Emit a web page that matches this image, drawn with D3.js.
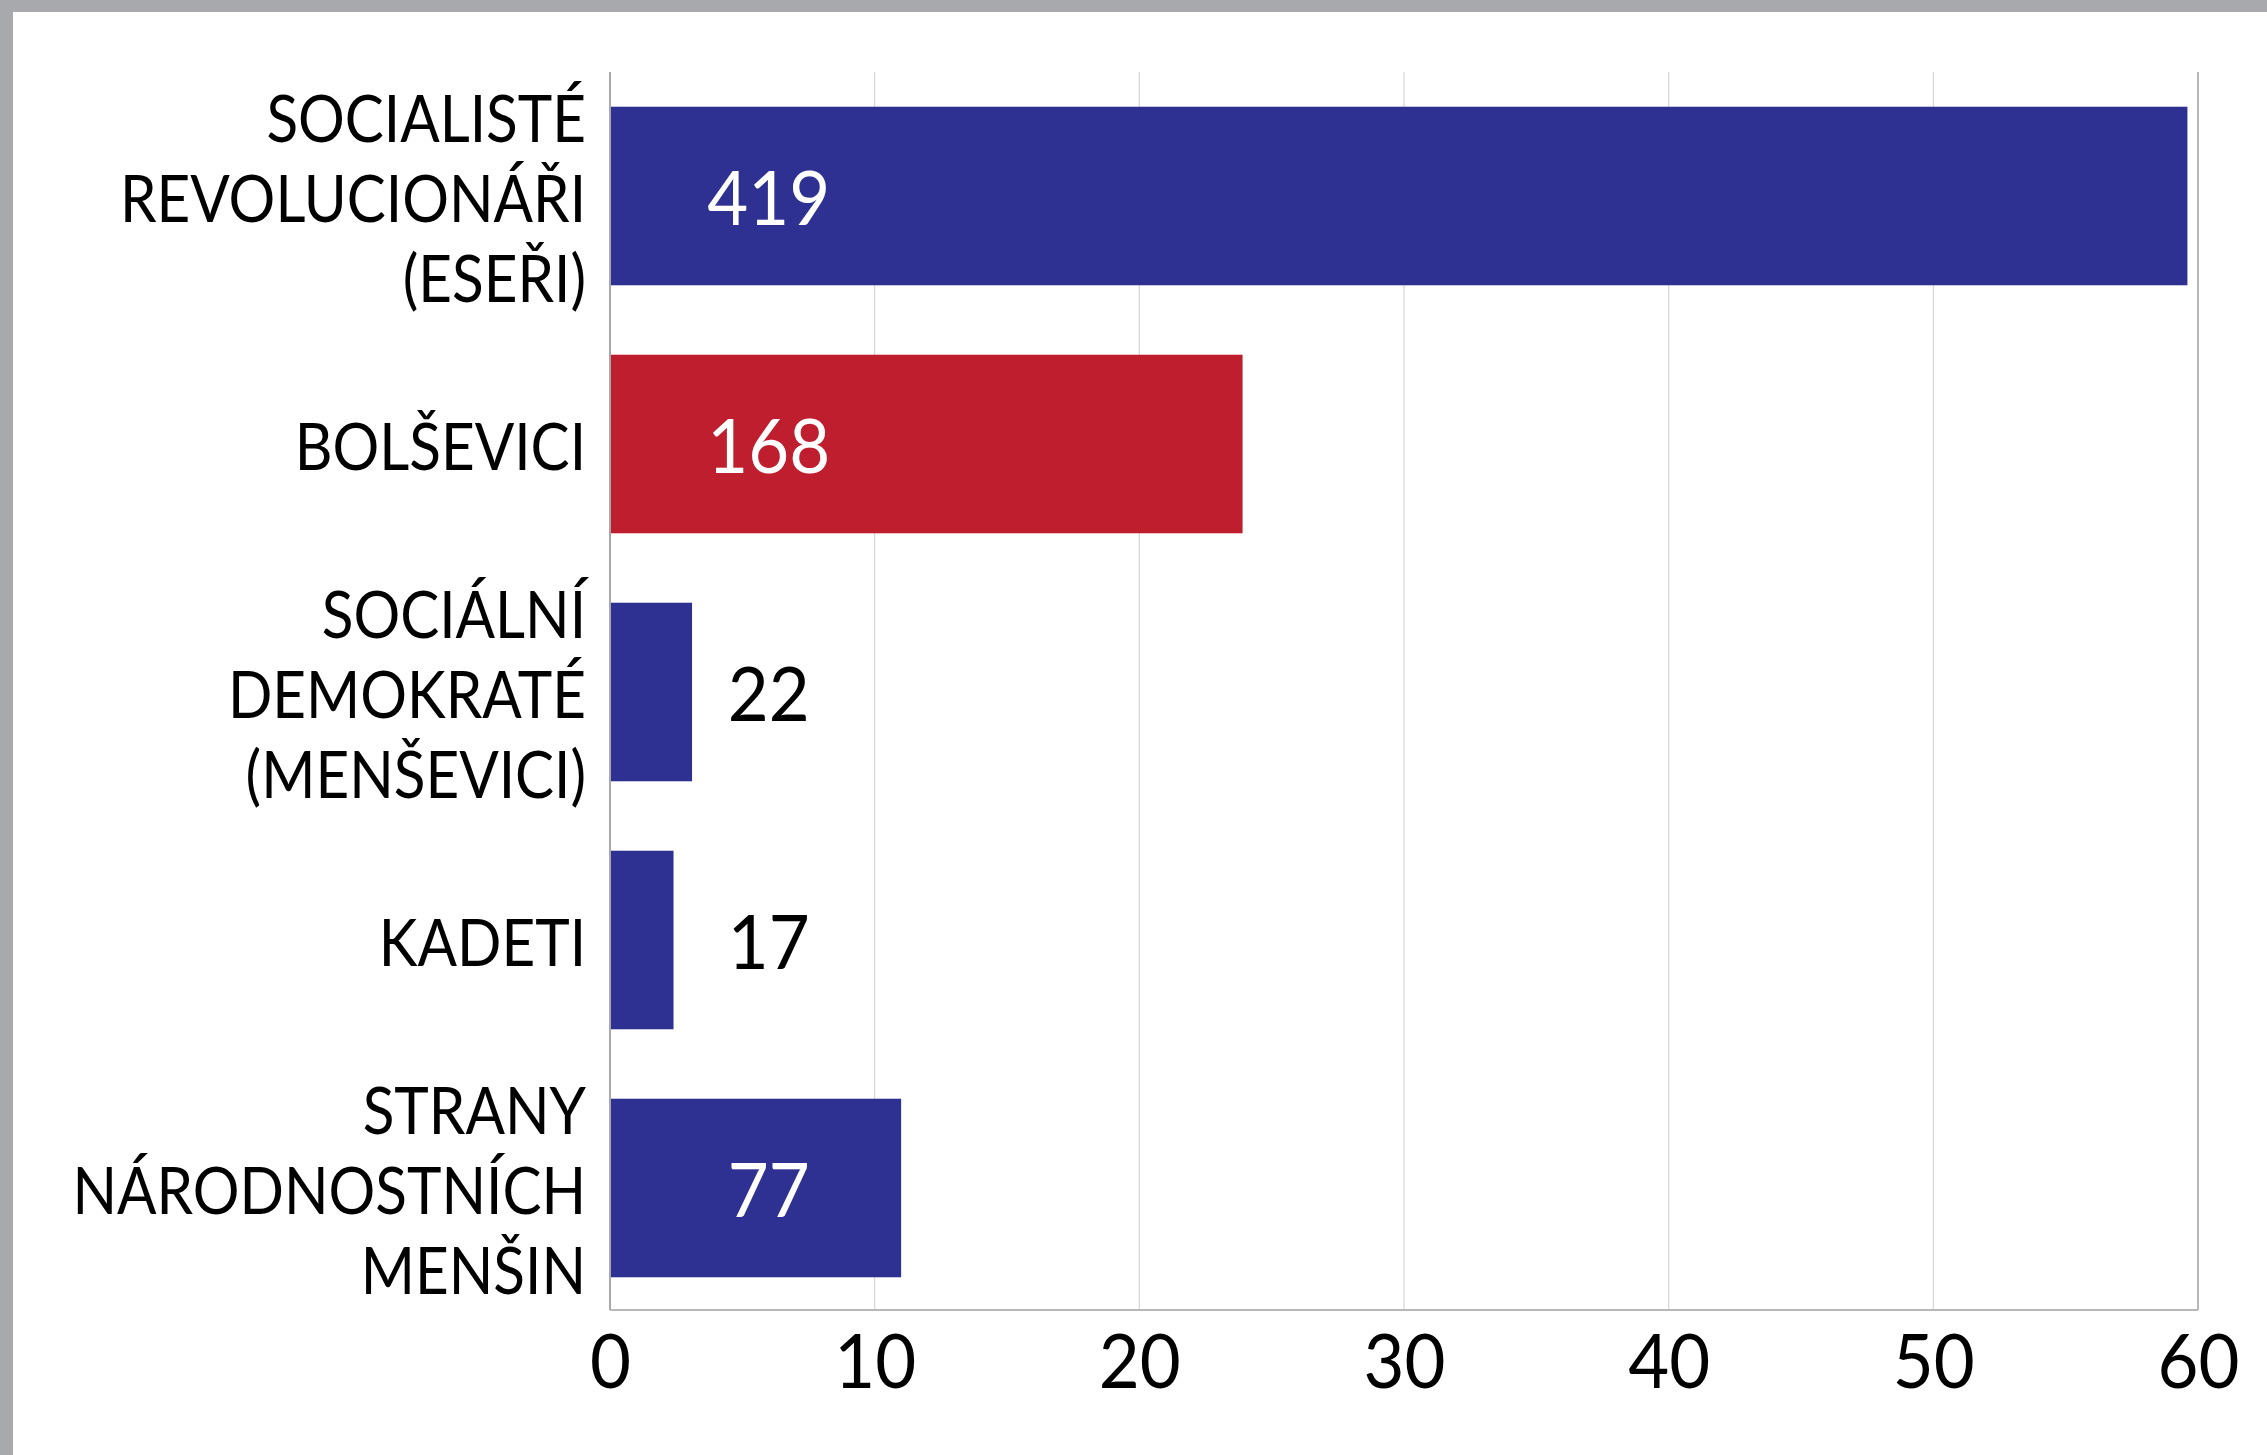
<!DOCTYPE html>
<html>
<head>
<meta charset="utf-8">
<script src="https://cdn.jsdelivr.net/npm/d3@7"></script>
<style>
  html, body { margin: 0; padding: 0; background: #fff; }
  svg { display: block; }
  text { font-family: Lato, "Open Sans", sans-serif; }
</style>
</head>
<body>
<svg id="chart"></svg>
<script>
// Seats in the Constituent Assembly, share of votes (%) on the x axis

const parties = [
  ['SOCIALISTÉ', 'REVOLUCIONÁŘI', '(ESEŘI)'],
  ['BOLŠEVICI'],
  ['SOCIÁLNÍ', 'DEMOKRATÉ', '(MENŠEVICI)'],
  ['KADETI'],
  ['STRANY', 'NÁRODNOSTNÍCH', 'MENŠIN']
];
const shares = [59.6, 23.9, 3.1, 2.4, 11.0];   // bar length, %
const seats  = [419, 168, 22, 17, 77];          // printed label
const colors = ['#2e3192', '#be1e2d', '#2e3192', '#2e3192', '#2e3192'];
const xTicks = [0, 10, 20, 30, 40, 50, 60];

const W = 2267, H = 1455;
const plotL = 610, plotR = 2198, plotT = 72, plotB = 1312, axisY = 1310;
const narrowLabel = 0.885;   // the original face is narrower than Lato
const narrowDigit = 0.93;

const svg = d3.select('#chart').attr('width', W).attr('height', H);

// ─── Frame ────────────────────────────────────────────────────────────────────
svg.append('rect').attr('x', 0).attr('y', 0).attr('width', W).attr('height', 12).attr('fill', '#a7a9ac');
svg.append('rect').attr('x', 0).attr('y', 0).attr('width', 13).attr('height', H).attr('fill', '#a7a9ac');

// ─── Scales ───────────────────────────────────────────────────────────────────
const x = d3.scaleLinear().domain([0, 60]).range([plotL, plotR]);
const y = d3.scaleBand()
  .domain(d3.range(parties.length))
  .range([plotT, plotB])
  .paddingInner(0.28)
  .paddingOuter(0.14);

// Gridlines
svg.append('g')
  .selectAll('line')
  .data(xTicks.slice(1))
  .join('line')
  .attr('x1', d => x(d)).attr('x2', d => x(d))
  .attr('y1', plotT).attr('y2', axisY)
  .attr('stroke', d => d === 60 ? '#b8b8b8' : '#d6d6d6')
  .attr('stroke-width', d => d === 60 ? 2 : 1.2);

// Bars
svg.append('g')
  .selectAll('rect')
  .data(shares)
  .join('rect')
  .attr('x', x(0))
  .attr('y', (d, i) => y(i))
  .attr('width', d => x(d) - x(0))
  .attr('height', y.bandwidth())
  .attr('fill', (d, i) => colors[i]);

// Axis lines
svg.append('line')
  .attr('x1', x(0)).attr('x2', x(0)).attr('y1', plotT).attr('y2', axisY)
  .attr('stroke', '#a8a8a8').attr('stroke-width', 2);
svg.append('line')
  .attr('x1', x(0)).attr('x2', x(60)).attr('y1', axisY).attr('y2', axisY)
  .attr('stroke', '#b8b8b8').attr('stroke-width', 2);

// Tick labels
const xAxis = svg.append('g')
  .attr('transform', `translate(0,${axisY})`)
  .call(d3.axisBottom(x).tickValues(xTicks).tickSize(0).tickPadding(0));
xAxis.select('.domain').remove();
xAxis.selectAll('text')
  .attr('y', 78)
  .attr('dy', 0)
  .attr('transform', `scale(${narrowDigit},1)`)
  .attr('font-size', 76)
  .attr('font-family', 'Lato, sans-serif')
  .attr('fill', '#000');

// Value labels — white inside long bars, black beside short ones
svg.append('g')
  .selectAll('text')
  .data(seats)
  .join('text')
  .attr('transform', (d, i) => `translate(${x(6)},${y(i) + y.bandwidth() / 2 + 29}) scale(${narrowDigit},1)`)
  .attr('text-anchor', 'middle')
  .attr('font-size', 76)
  .attr('fill', (d, i) => x(shares[i]) > x(9.5) ? '#fff' : '#000')
  .text(d => d);

// Category labels, one text per line
const lineH = 80;
const labelX = 586;
parties.forEach((lines, i) => {
  const cy = y(i) + y.bandwidth() / 2;
  const first = cy + 26 - (lines.length - 1) / 2 * lineH;
  svg.append('g')
    .selectAll('text')
    .data(lines)
    .join('text')
    .attr('transform', (d, j) => `translate(${labelX},${first + j * lineH}) scale(${narrowLabel},1)`)
    .attr('text-anchor', 'end')
    .attr('font-size', 66)
    .attr('fill', '#000')
    .text(d => d);
});
</script>
</body>
</html>
